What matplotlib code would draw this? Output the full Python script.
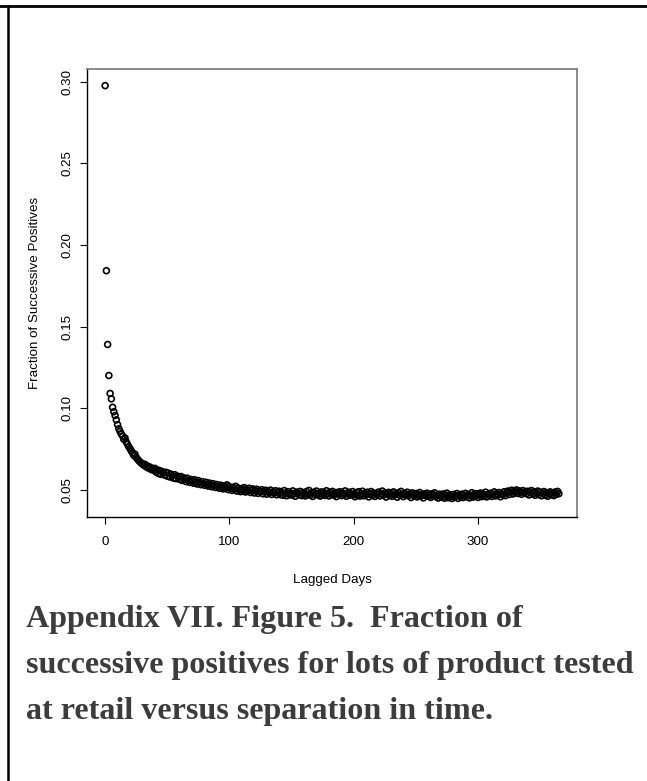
import matplotlib
matplotlib.use("Agg")
import matplotlib.pyplot as plt
from matplotlib.lines import Line2D

# ---- data ----
lag_days = list(range(0, 366))
fraction_positive = [
    0.2976, 0.1842, 0.1390, 0.1200, 0.1090, 0.1057, 0.1005, 0.0978, 0.0955, 0.0928,
    0.0899, 0.0874, 0.0857, 0.0842, 0.0830, 0.0809, 0.0817, 0.0793, 0.0778, 0.0764,
    0.0752, 0.0739, 0.0726, 0.0711, 0.0718, 0.0697, 0.0688, 0.0679, 0.0671, 0.0664,
    0.0658, 0.0651, 0.0656, 0.0640, 0.0646, 0.0632, 0.0639, 0.0624, 0.0631, 0.0619,
    0.0631, 0.0608, 0.0622, 0.0599, 0.0617, 0.0594, 0.0611, 0.0603, 0.0589, 0.0607,
    0.0583, 0.0601, 0.0578, 0.0595, 0.0586, 0.0571, 0.0592, 0.0568, 0.0584, 0.0576,
    0.0563, 0.0581, 0.0557, 0.0574, 0.0566, 0.0550, 0.0571, 0.0556, 0.0545, 0.0563,
    0.0552, 0.0540, 0.0561, 0.0547, 0.0535, 0.0556, 0.0543, 0.0531, 0.0550, 0.0538,
    0.0527, 0.0546, 0.0533, 0.0522, 0.0541, 0.0529, 0.0518, 0.0537, 0.0525, 0.0514,
    0.0532, 0.0520, 0.0509, 0.0528, 0.0516, 0.0505, 0.0524, 0.0512, 0.0530, 0.0501,
    0.0519, 0.0507, 0.0496, 0.0515, 0.0503, 0.0521, 0.0492, 0.0510, 0.0499, 0.0488,
    0.0508, 0.0495, 0.0513, 0.0486, 0.0502, 0.0491, 0.0509, 0.0483, 0.0497, 0.0505,
    0.0480, 0.0494, 0.0503, 0.0478, 0.0492, 0.0486, 0.0500, 0.0475, 0.0489, 0.0497,
    0.0473, 0.0490, 0.0482, 0.0498, 0.0471, 0.0487, 0.0479, 0.0494, 0.0469, 0.0485,
    0.0491, 0.0470, 0.0484, 0.0466, 0.0495, 0.0477, 0.0463, 0.0488, 0.0472, 0.0481,
    0.0467, 0.0493, 0.0475, 0.0460, 0.0486, 0.0479, 0.0469, 0.0490, 0.0464, 0.0483,
    0.0474, 0.0462, 0.0489, 0.0471, 0.0496, 0.0466, 0.0480, 0.0459, 0.0485, 0.0473,
    0.0492, 0.0468, 0.0478, 0.0461, 0.0487, 0.0470, 0.0483, 0.0465, 0.0494, 0.0476,
    0.0462, 0.0486, 0.0471, 0.0490, 0.0467, 0.0479, 0.0458, 0.0484, 0.0473, 0.0488,
    0.0464, 0.0481, 0.0469, 0.0493, 0.0460, 0.0477, 0.0485, 0.0466, 0.0474, 0.0489,
    0.0470, 0.0457, 0.0483, 0.0466, 0.0488, 0.0461, 0.0476, 0.0491, 0.0463, 0.0479,
    0.0468, 0.0485, 0.0456, 0.0474, 0.0489, 0.0465, 0.0480, 0.0459, 0.0477, 0.0471,
    0.0486, 0.0462, 0.0475, 0.0492, 0.0467, 0.0481, 0.0455, 0.0473, 0.0484, 0.0464,
    0.0479, 0.0460, 0.0487, 0.0469, 0.0476, 0.0454, 0.0482, 0.0466, 0.0490, 0.0472,
    0.0458, 0.0478, 0.0467, 0.0485, 0.0463, 0.0474, 0.0452, 0.0481, 0.0469, 0.0460,
    0.0477, 0.0456, 0.0471, 0.0483, 0.0461, 0.0468, 0.0450, 0.0475, 0.0464, 0.0479,
    0.0459, 0.0470, 0.0453, 0.0476, 0.0462, 0.0481, 0.0457, 0.0467, 0.0449, 0.0473,
    0.0463, 0.0455, 0.0474, 0.0448, 0.0466, 0.0479, 0.0451, 0.0469, 0.0458, 0.0446,
    0.0471, 0.0454, 0.0463, 0.0477, 0.0447, 0.0468, 0.0456, 0.0473, 0.0452, 0.0465,
    0.0478, 0.0457, 0.0470, 0.0450, 0.0466, 0.0482, 0.0455, 0.0472, 0.0461, 0.0476,
    0.0453, 0.0469, 0.0480, 0.0458, 0.0474, 0.0463, 0.0485, 0.0456, 0.0471, 0.0466,
    0.0479, 0.0459, 0.0473, 0.0487, 0.0462, 0.0476, 0.0468, 0.0483, 0.0457, 0.0475,
    0.0470, 0.0488, 0.0464, 0.0481, 0.0492, 0.0471, 0.0486, 0.0497, 0.0474, 0.0490,
    0.0483, 0.0499, 0.0477, 0.0493, 0.0486, 0.0472, 0.0495, 0.0481, 0.0489, 0.0476,
    0.0491, 0.0468, 0.0484, 0.0495, 0.0473, 0.0487, 0.0466, 0.0480, 0.0492, 0.0470,
    0.0485, 0.0463, 0.0478, 0.0489, 0.0467, 0.0482, 0.0460, 0.0476, 0.0487, 0.0469,
    0.0481, 0.0464, 0.0486, 0.0472, 0.0490, 0.0476,
]
x_ticks = [0, 100, 200, 300]
y_ticks = [0.05, 0.10, 0.15, 0.20, 0.25, 0.30]
x_label = "Lagged Days"
y_label = "Fraction of Successive Positives"
caption_lines = [
    "Appendix VII. Figure 5.  Fraction of",
    "successive positives for lots of product tested",
    "at retail versus separation in time.",
]

W, H = 647, 781
fig = plt.figure(figsize=(W / 100, H / 100), dpi=100)
fig.patch.set_facecolor("white")

# plot box in pixels: x 87..577, y 69..517
ax = fig.add_axes([87 / W, 1 - 517 / H, (577 - 87) / W, (517 - 69) / H])
ax.scatter(lag_days, fraction_positive, s=18, facecolors="none",
           edgecolors="black", linewidths=1.2, zorder=3)

span_x = max(lag_days) - min(lag_days)
ax.set_xlim(min(lag_days) - 0.04 * span_x, max(lag_days) + 0.04 * span_x)
ax.set_ylim(0.0333, 0.3078)

sans = ["Liberation Sans", "DejaVu Sans"]
fs = 9.6
ax.set_xticks(x_ticks)
ax.set_xticklabels([str(t) for t in x_ticks], fontfamily=sans, fontsize=fs)
ax.set_yticks(y_ticks)
ax.set_yticklabels([f"{t:.2f}" for t in y_ticks], fontfamily=sans, fontsize=fs,
                   rotation=90, va="center")
ax.tick_params(axis="both", direction="out", length=5, width=0.8, color="black")
ax.tick_params(axis="x", pad=9)
ax.tick_params(axis="y", pad=5)

for side in ["left", "bottom"]:
    ax.spines[side].set_color("black")
    ax.spines[side].set_linewidth(1.0)
for side in ["top", "right"]:
    ax.spines[side].set_color("#808080")
    ax.spines[side].set_linewidth(1.3)

fig.text(332 / W, 1 - 580 / H, x_label, ha="center", va="center",
         fontfamily=sans, fontsize=fs)
fig.text(35 / W, 1 - 293 / H, y_label, ha="center", va="center",
         rotation=90, fontfamily=sans, fontsize=fs)

# caption (size chosen so the widest line spans ~608 px, as in the reference)
serif = ["Liberation Serif", "DejaVu Serif"]
renderer = fig.canvas.get_renderer()
probe = fig.text(0, 0, caption_lines[1], fontfamily=serif, fontweight="bold", fontsize=20)
w20 = probe.get_window_extent(renderer).width
probe.remove()
cap_fs = 20 * 608 / w20
cap_y = [620, 666, 711]
for line, yy in zip(caption_lines, cap_y):
    fig.text(26 / W, 1 - yy / H, line, ha="left", va="center",
             fontfamily=serif, fontweight="bold",
             fontsize=cap_fs, color="#3c3c3c")

# frame lines of the page (top and left)
fig.add_artist(Line2D([0, 1], [1 - 5.5 / H, 1 - 5.5 / H], transform=fig.transFigure,
                      color="black", linewidth=2.0))
fig.add_artist(Line2D([8 / W, 8 / W], [0, 1 - 5.5 / H], transform=fig.transFigure,
                      color="black", linewidth=1.8))

fig.savefig("out.png", dpi=100, facecolor="white")
